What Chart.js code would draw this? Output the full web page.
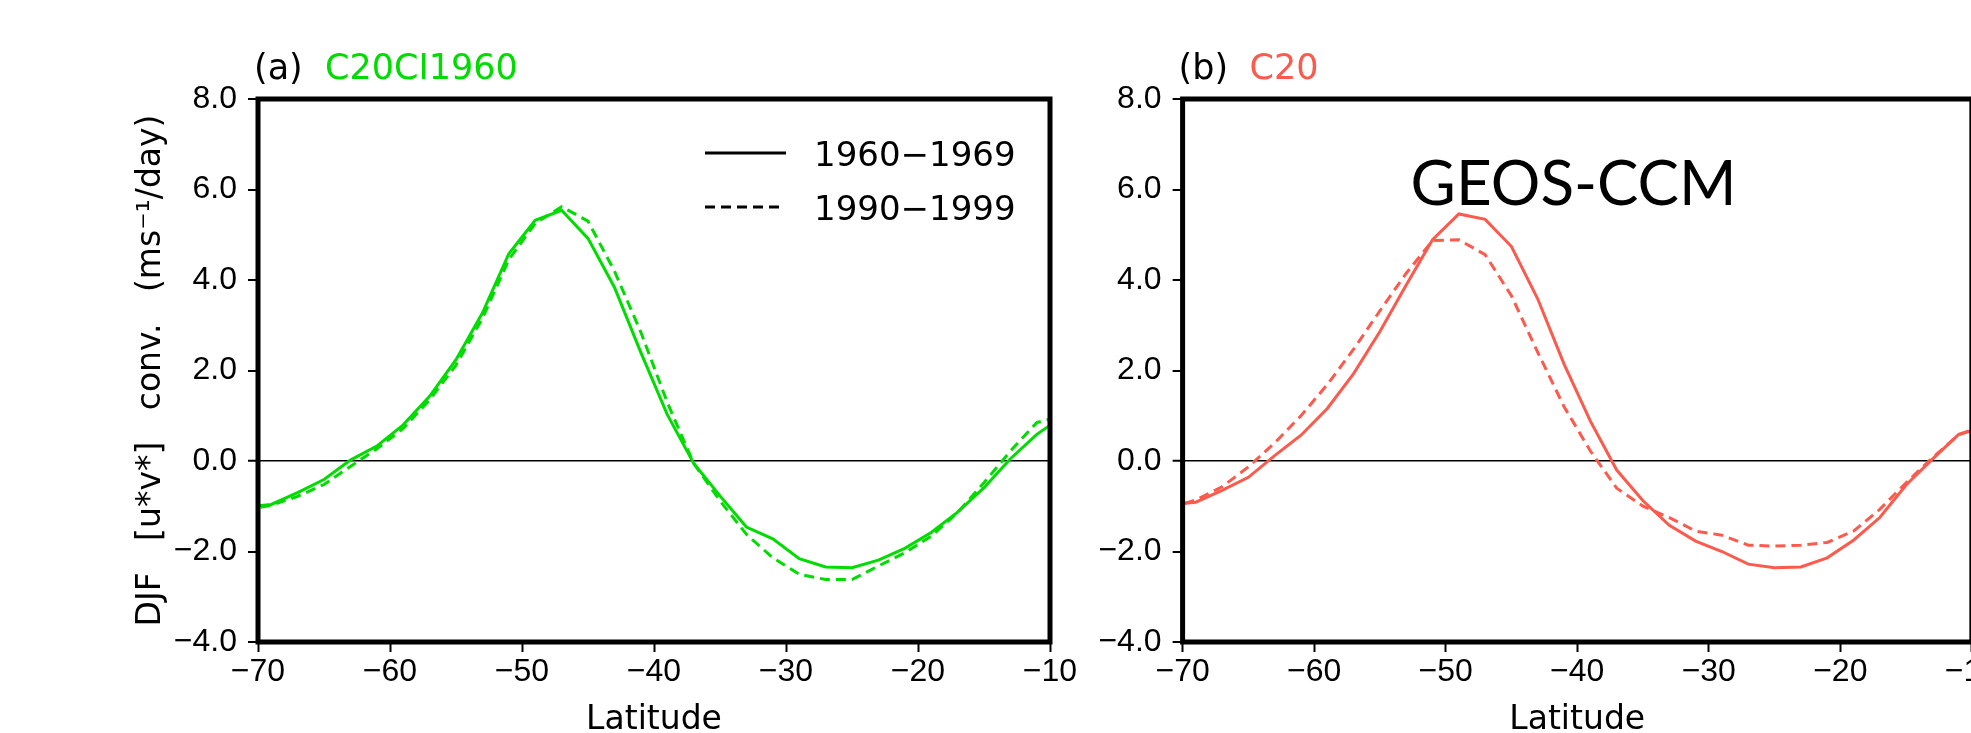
<!DOCTYPE html>
<html>
<head>
<meta charset="utf-8">
<script src="https://cdn.jsdelivr.net/npm/chart.js@4.4.1/dist/chart.umd.min.js"></script>
<style>
  html, body { margin: 0; padding: 0; background: #fff; overflow: hidden; width: 1971px; height: 733px; }
  .panel { position: absolute; top: 0; height: 760px; }
  #panelA { left: 0; width: 1100px; }
  #panelB { left: 1100px; width: 900px; }
</style>
</head>
<body>
<div class="panel" id="panelA"><canvas id="chartA"></canvas></div>
<div class="panel" id="panelB"><canvas id="chartB"></canvas></div>
<script>
// latitudes (deg), 2-degree grid, one point past each edge of the -70..-10 window
const latitudes = [-71, -69, -67, -65, -63, -61, -59, -57, -55, -53, -51, -49, -47, -45, -43, -41,
                   -39, -37, -35, -33, -31, -29, -27, -25, -23, -21, -19, -17, -15, -13, -11, -9];

// (a) C20CI1960
const c20ci_1960s = [-1.02, -0.96, -0.70, -0.41, 0.02, 0.33, 0.80, 1.43, 2.24, 3.27, 4.58, 5.32, 5.54, 4.92, 3.84, 2.40,
                     1.03, -0.05, -0.77, -1.46, -1.72, -2.16, -2.34, -2.36, -2.19, -1.93, -1.58, -1.13, -0.59, 0.05, 0.59, 0.99];
const c20ci_1990s = [-1.08, -0.98, -0.78, -0.52, -0.12, 0.27, 0.72, 1.35, 2.12, 3.15, 4.45, 5.25, 5.62, 5.30, 4.20, 2.85,
                     1.30, -0.05, -0.88, -1.62, -2.14, -2.50, -2.62, -2.62, -2.32, -2.03, -1.66, -1.14, -0.48, 0.22, 0.85, 1.00];

// (b) C20
const c20_1960s = [-0.97, -0.91, -0.65, -0.36, 0.12, 0.57, 1.16, 1.93, 2.86, 3.89, 4.89, 5.46, 5.34, 4.74, 3.58, 2.14,
                   0.88, -0.20, -0.88, -1.42, -1.77, -2.00, -2.28, -2.36, -2.34, -2.14, -1.75, -1.25, -0.53, 0.04, 0.59, 0.75];
const c20_1990s = [-1.05, -0.86, -0.57, -0.13, 0.40, 1.00, 1.69, 2.47, 3.32, 4.15, 4.87, 4.89, 4.56, 3.65, 2.40, 1.20,
                   0.22, -0.60, -1.00, -1.25, -1.55, -1.64, -1.86, -1.88, -1.86, -1.80, -1.55, -1.07, -0.48, 0.07, 0.58, 0.80];

const periods = ['1960\u22121969', '1990\u22121999'];
const xTicks = [-70, -60, -50, -40, -30, -20, -10];
const yTicks = [-4, -2, 0, 2, 4, 6, 8];
const yTitle = 'DJF   [u*v*]   conv.   (ms\u207B\u00B9/day)';

const GREEN = '#00dc00';
const RED = '#fb5a4c';
const DASH = [10, 6];

const minus = s => s.replace('-', '\u2212');

// heavy frame round the plot area
const framePlugin = {
  id: 'frame',
  afterDraw(chart) {
    const { ctx, chartArea: a } = chart;
    ctx.save();
    ctx.strokeStyle = '#000';
    ctx.lineWidth = 5;
    ctx.strokeRect(a.left, a.top, a.right - a.left, a.bottom - a.top);
    ctx.restore();
  }
};

// "(a) C20CI1960" style heading, two colours
const headPlugin = {
  id: 'head',
  afterDraw(chart, args, o) {
    if (!o.tag) return;
    const { ctx, chartArea: a } = chart;
    ctx.save();
    ctx.font = '35px "DejaVu Sans"';
    ctx.textBaseline = 'middle';
    ctx.textAlign = 'left';
    ctx.fillStyle = '#000';
    ctx.fillText(o.tag, a.left - 4, 70);
    ctx.fillStyle = o.color;
    ctx.fillText(o.name, a.left + 67, 70);
    ctx.restore();
  }
};

// line key drawn from the dataset labels
const keyPlugin = {
  id: 'key',
  afterDraw(chart, args, o) {
    if (!o.show) return;
    const { ctx, chartArea: a } = chart;
    ctx.save();
    chart.data.datasets.forEach((ds, i) => {
      const y = a.top + 54 + i * 54;
      ctx.strokeStyle = '#000';
      ctx.lineWidth = 3;
      ctx.setLineDash(ds.borderDash || []);
      ctx.beginPath();
      ctx.moveTo(a.left + 447, y);
      ctx.lineTo(a.left + (ds.borderDash ? 521 : 528), y);
      ctx.stroke();
      ctx.setLineDash([]);
      ctx.fillStyle = '#000';
      ctx.font = '34px "DejaVu Sans"';
      ctx.textBaseline = 'alphabetic';
      ctx.fillText(ds.label, a.left + 556, y + 13);
    });
    ctx.restore();
  }
};

const modelPlugin = {
  id: 'model',
  afterDraw(chart, args, o) {
    if (!o.text) return;
    const { ctx, chartArea: a } = chart;
    ctx.save();
    ctx.font = '62px Lato';
    ctx.fillStyle = '#000';
    ctx.textAlign = 'center';
    ctx.textBaseline = 'alphabetic';
    ctx.fillText(o.text, a.left + 391, 205);
    ctx.restore();
  }
};

function makePanel(id, solid, dashed, color, p) {
  return new Chart(document.getElementById(id), {
    type: 'line',
    data: {
      datasets: [
        { label: periods[0], data: latitudes.map((x, i) => ({ x: x, y: solid[i] })),
          borderColor: color, borderWidth: 3, pointRadius: 0, tension: 0 },
        { label: periods[1], data: latitudes.map((x, i) => ({ x: x, y: dashed[i] })),
          borderColor: color, borderWidth: 3, borderDash: DASH, pointRadius: 0, tension: 0 }
      ]
    },
    options: {
      responsive: true,
      maintainAspectRatio: false,
      animation: false,
      devicePixelRatio: 1,
      layout: { padding: { left: p.padLeft, right: p.padRight, top: 99, bottom: 0 } },
      plugins: {
        legend: { display: false },
        tooltip: { enabled: false },
        head: { tag: p.tag, name: p.name, color: color },
        key: { show: p.key },
        model: { text: p.model }
      },
      scales: {
        x: {
          type: 'linear', min: -70, max: -10,
          afterBuildTicks: s => { s.ticks = xTicks.map(v => ({ value: v })); },
          afterFit: s => { s.height = 118; },
          ticks: { font: { family: '"Liberation Sans"', size: 32 }, color: '#000', padding: 1,
                   maxRotation: 0, autoSkip: false, callback: v => minus(String(v)) },
          grid: { drawOnChartArea: false, tickLength: 10, tickWidth: 2, tickColor: '#000' },
          border: { display: false },
          title: { display: true, text: 'Latitude', color: '#000',
                   font: { family: '"DejaVu Sans"', size: 33 }, padding: { top: 0, bottom: 20 } }
        },
        y: {
          min: -4, max: 8,
          afterBuildTicks: s => { s.ticks = yTicks.map(v => ({ value: v })); },
          afterFit: s => { s.width = p.yWidth; },
          ticks: { font: { family: '"Liberation Sans"', size: 32 }, color: '#000', padding: 11,
                   autoSkip: false, callback: v => minus(v.toFixed(1)) },
          grid: {
            color: c => (c.tick && c.tick.value === 0) ? '#000' : 'rgba(0,0,0,0)',
            lineWidth: c => (c.tick && c.tick.value === 0) ? 1.5 : 0,
            tickLength: 10, tickWidth: 2, tickColor: '#000'
          },
          border: { display: false },
          title: { display: p.yTitle, text: yTitle, color: '#000',
                   font: { family: '"DejaVu Sans"', size: 33 }, padding: { top: 12, bottom: 0 } }
        }
      }
    },
    plugins: [framePlugin, headPlugin, keyPlugin, modelPlugin]
  });
}

makePanel('chartA', c20ci_1960s, c20ci_1990s, GREEN,
  { padLeft: 120, padRight: 50, yWidth: 138, yTitle: true, tag: '(a)', name: 'C20CI1960', key: true, model: '' });
makePanel('chartB', c20_1960s, c20_1990s, RED,
  { padLeft: 0, padRight: 27.4, yWidth: 82.6, yTitle: false, tag: '(b)', name: 'C20', key: false, model: 'GEOS-CCM' });
</script>
</body>
</html>
